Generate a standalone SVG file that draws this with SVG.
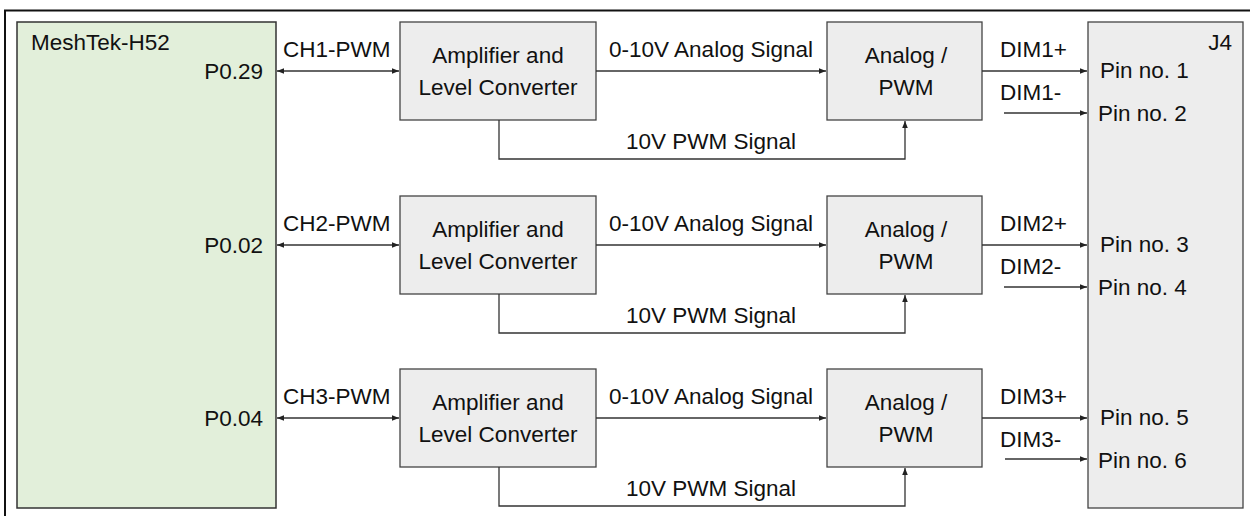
<svg xmlns="http://www.w3.org/2000/svg" width="1250" height="516" viewBox="0 0 1250 516">
<defs>
<style>
text{font-family:"Liberation Sans",Arial,sans-serif;font-size:22.5px;fill:#111}
.mid{text-anchor:middle}
.end{text-anchor:end}
.box{fill:#ededed;stroke:#444;stroke-width:1.3}
.mcu{fill:#e2efda;stroke:#333;stroke-width:1.5}
.ln{fill:none;stroke:#333;stroke-width:1.3}
</style>
<marker id="ah" viewBox="0 0 10 10" refX="10" refY="5" markerWidth="7" markerHeight="7" markerUnits="userSpaceOnUse" orient="auto-start-reverse">
<path d="M0,1 L10,5 L0,9 z" fill="#222"/>
</marker>
</defs>
<rect x="0" y="0" width="1250" height="516" fill="#fff"/>
<rect x="5" y="10.5" width="1260" height="520" fill="none" stroke="#111" stroke-width="2"/>

<g id="mcu">
<rect class="mcu" x="17" y="22" width="259" height="486"/>
<text x="31" y="50">MeshTek-H52</text>
<text class="end" x="263" y="79">P0.29</text>
<text class="end" x="263" y="253">P0.02</text>
<text class="end" x="263" y="426">P0.04</text>
</g>

<g id="j4">
<rect class="box" x="1088" y="22" width="155" height="486"/>
<text class="end" x="1232" y="50">J4</text>
<text x="1100" y="78">Pin no. 1</text>
<text x="1098" y="121">Pin no. 2</text>
<text x="1100" y="252">Pin no. 3</text>
<text x="1098" y="295">Pin no. 4</text>
<text x="1100" y="425">Pin no. 5</text>
<text x="1098" y="468">Pin no. 6</text>
</g>

<g id="amp1">
<rect class="box" x="400" y="22" width="196" height="98"/>
<text class="mid" x="498" y="63">Amplifier and</text>
<text class="mid" x="498" y="95">Level Converter</text>
</g>
<g id="amp2">
<rect class="box" x="400" y="196" width="196" height="98"/>
<text class="mid" x="498" y="237">Amplifier and</text>
<text class="mid" x="498" y="269">Level Converter</text>
</g>
<g id="amp3">
<rect class="box" x="400" y="369" width="196" height="98"/>
<text class="mid" x="498" y="410">Amplifier and</text>
<text class="mid" x="498" y="442">Level Converter</text>
</g>

<g id="apwm1">
<rect class="box" x="827" y="22" width="155" height="98"/>
<text class="mid" x="906" y="63">Analog /</text>
<text class="mid" x="906" y="95">PWM</text>
</g>
<g id="apwm2">
<rect class="box" x="827" y="196" width="155" height="98"/>
<text class="mid" x="906" y="237">Analog /</text>
<text class="mid" x="906" y="269">PWM</text>
</g>
<g id="apwm3">
<rect class="box" x="827" y="369" width="155" height="98"/>
<text class="mid" x="906" y="410">Analog /</text>
<text class="mid" x="906" y="442">PWM</text>
</g>

<g id="connectors">
<line class="ln" x1="277" y1="71" x2="399" y2="71" marker-start="url(#ah)" marker-end="url(#ah)"/>
<line class="ln" x1="277" y1="245" x2="399" y2="245" marker-start="url(#ah)" marker-end="url(#ah)"/>
<line class="ln" x1="277" y1="418" x2="399" y2="418" marker-start="url(#ah)" marker-end="url(#ah)"/>

<line class="ln" x1="596" y1="71" x2="826" y2="71" marker-end="url(#ah)"/>
<line class="ln" x1="596" y1="245" x2="826" y2="245" marker-end="url(#ah)"/>
<line class="ln" x1="596" y1="418" x2="826" y2="418" marker-end="url(#ah)"/>

<path class="ln" d="M499,120 V159 H905 V121" marker-end="url(#ah)"/>
<path class="ln" d="M499,294 V333 H905 V295" marker-end="url(#ah)"/>
<path class="ln" d="M499,467 V506 H905 V468" marker-end="url(#ah)"/>

<line class="ln" x1="982" y1="71" x2="1087" y2="71" marker-end="url(#ah)"/>
<line class="ln" x1="1004" y1="113" x2="1087" y2="113" marker-end="url(#ah)"/>
<line class="ln" x1="982" y1="245" x2="1087" y2="245" marker-end="url(#ah)"/>
<line class="ln" x1="1004" y1="287" x2="1087" y2="287" marker-end="url(#ah)"/>
<line class="ln" x1="982" y1="418" x2="1087" y2="418" marker-end="url(#ah)"/>
<line class="ln" x1="1005" y1="459" x2="1087" y2="459" marker-end="url(#ah)"/>

<text x="283" y="57">CH1-PWM</text>
<text x="283" y="231">CH2-PWM</text>
<text x="283" y="404">CH3-PWM</text>
<text class="mid" x="711" y="57">0-10V Analog Signal</text>
<text class="mid" x="711" y="231">0-10V Analog Signal</text>
<text class="mid" x="711" y="404">0-10V Analog Signal</text>
<text class="mid" x="711" y="149">10V PWM Signal</text>
<text class="mid" x="711" y="323">10V PWM Signal</text>
<text class="mid" x="711" y="496">10V PWM Signal</text>
<text x="1000" y="57">DIM1+</text>
<text x="1000" y="100">DIM1-</text>
<text x="1000" y="231">DIM2+</text>
<text x="1000" y="274">DIM2-</text>
<text x="1000" y="404">DIM3+</text>
<text x="1000" y="447">DIM3-</text>
</g>
</svg>
